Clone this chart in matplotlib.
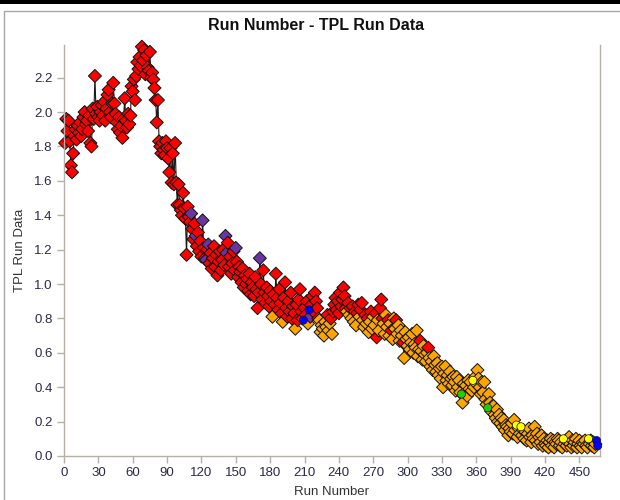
import numpy as np
import matplotlib
matplotlib.use('Agg')
import matplotlib.pyplot as plt
from matplotlib.patches import Rectangle
from matplotlib.lines import Line2D

plt.rcParams['font.family'] = ['Liberation Sans', 'DejaVu Sans']

# TPL value per run (run 1 .. 466)
tpl_values = [
    1.82, 1.96, 1.89, 1.95, 1.83, 1.69, 1.65, 1.76, 1.86, 1.90,
    1.84, 1.92, 1.88, 1.94, 1.86, 1.90, 1.97, 2.00, 1.93, 1.95,
    1.89, 1.98, 1.82, 1.80, 2.02, 1.96, 2.21, 1.99, 2.03, 1.97,
    1.95, 2.00, 2.04, 1.98, 2.06, 1.95, 2.02, 2.10, 2.13, 2.00,
    1.97, 2.05, 2.17, 2.05, 1.99, 1.94, 1.90, 1.97, 1.88, 1.92,
    1.85, 1.96, 2.08, 1.95, 1.91, 1.99, 1.93, 1.98, 2.15, 2.12,
    2.19, 2.07, 2.21, 2.29, 2.25, 2.32, 2.27, 2.38, 2.30, 2.36,
    2.22, 2.33, 2.26, 2.24, 2.35, 2.20, 2.23, 2.19, 2.14, 2.07,
    1.94, 2.07, 1.83, 1.80, 1.76, 1.82, 1.78, 1.75, 1.83, 1.79,
    1.73, 1.65, 1.79, 1.59, 1.76, 1.58, 1.82, 1.59, 1.46, 1.58,
    1.46, 1.43, 1.40, 1.53, 1.44, 1.38, 1.17, 1.45, 1.39, 1.36,
    1.41, 1.32, 1.26, 1.35, 1.28, 1.22, 1.30, 1.19, 1.25, 1.16,
    1.37, 1.21, 1.15, 1.14, 1.20, 1.23, 1.12, 1.18, 1.09, 1.15,
    1.22, 1.10, 1.17, 1.05, 1.13, 1.19, 1.08, 1.14, 1.20, 1.11,
    1.28, 1.18, 1.24, 1.10, 1.16, 1.06, 1.12, 1.19, 1.08, 1.21,
    1.13, 1.04, 1.10, 1.07, 1.01, 1.09, 0.98, 1.05, 1.00, 1.03,
    0.96, 1.06, 0.94, 1.01, 0.98, 0.93, 1.04, 0.97, 0.86, 0.95,
    1.15, 1.00, 0.91, 1.08, 0.95, 0.89, 0.98, 0.93, 0.87, 0.96,
    0.90, 0.81, 0.94, 0.88, 1.06, 0.92, 0.85, 0.97, 0.89, 0.83,
    0.78, 0.92, 1.01, 0.86, 0.81, 0.90, 0.84, 0.95, 0.80, 0.87,
    0.83, 0.74, 0.88, 0.79, 0.91, 0.97, 0.84, 0.80, 0.79, 0.86,
    0.82, 0.90, 0.77, 0.85, 0.81, 0.88, 0.93, 0.84, 0.95, 0.90,
    0.86, 0.80, 0.79, 0.72, 0.76, 0.74, 0.70, 0.78, 0.75, 0.82,
    0.73, 0.77, 0.80, 0.71, 0.84, 0.88, 0.92, 0.85, 0.90, 0.83,
    0.95, 0.87, 0.91, 0.98, 0.93, 0.86, 0.84, 0.89, 0.82, 0.86,
    0.80, 0.87, 0.78, 0.84, 0.76, 0.83, 0.88, 0.81, 0.85, 0.89,
    0.79, 0.75, 0.82, 0.77, 0.80, 0.72, 0.78, 0.84, 0.74, 0.81,
    0.76, 0.83, 0.69, 0.79, 0.73, 0.86, 0.91, 0.80, 0.77, 0.71,
    0.82, 0.75, 0.79, 0.70, 0.77, 0.73, 0.68, 0.80, 0.74, 0.79,
    0.71, 0.76, 0.67, 0.73, 0.70, 0.66, 0.57, 0.72, 0.68, 0.64,
    0.69, 0.62, 0.66, 0.71, 0.60, 0.65, 0.63, 0.73, 0.58, 0.62,
    0.67, 0.61, 0.56, 0.64, 0.59, 0.55, 0.60, 0.63, 0.57, 0.52,
    0.55, 0.50, 0.58, 0.53, 0.49, 0.54, 0.47, 0.51, 0.45, 0.52,
    0.40, 0.48, 0.52, 0.44, 0.47, 0.42, 0.49, 0.45, 0.41, 0.46,
    0.43, 0.38, 0.46, 0.40, 0.44, 0.37, 0.36, 0.31, 0.42, 0.37,
    0.41, 0.35, 0.44, 0.39, 0.43, 0.38, 0.44, 0.40, 0.46, 0.42,
    0.50, 0.45, 0.40, 0.36, 0.43, 0.37, 0.43, 0.33, 0.30, 0.28,
    0.36, 0.31, 0.26, 0.29, 0.29, 0.24, 0.22, 0.27, 0.20, 0.24,
    0.19, 0.22, 0.17, 0.21, 0.15, 0.18, 0.17, 0.12, 0.16, 0.14,
    0.19, 0.13, 0.21, 0.15, 0.18, 0.11, 0.16, 0.13, 0.17, 0.12,
    0.15, 0.10, 0.14, 0.09, 0.13, 0.16, 0.11, 0.08, 0.12, 0.10,
    0.17, 0.09, 0.13, 0.07, 0.11, 0.08, 0.12, 0.06, 0.10, 0.07,
    0.06, 0.09, 0.05, 0.08, 0.10, 0.06, 0.09, 0.05, 0.08, 0.07,
    0.10, 0.09, 0.06, 0.08, 0.05, 0.10, 0.07, 0.09, 0.06, 0.08,
    0.11, 0.07, 0.05, 0.09, 0.06, 0.08, 0.10, 0.05, 0.07, 0.09,
    0.06, 0.05, 0.08, 0.07, 0.09, 0.06, 0.05, 0.10, 0.07, 0.09,
    0.06, 0.08, 0.05, 0.07, 0.09, 0.06,
]

# point colour groups (red before run 291, orange from 291 on, plus exceptions)
orange_switch_run = 291
orange_early_runs = [182, 191, 202, 213, 223, 224, 225, 226, 227, 228, 229,
                     231, 232, 234, 247, 249, 251, 253, 255, 258, 261, 262,
                     264, 266, 267, 269, 270, 271, 274, 275, 279, 280, 281,
                     282, 284, 285, 287, 288, 289]
red_late_runs = [296, 311, 318]
purple_runs = [111, 115, 121, 124, 126, 141, 142, 150, 171, 215]
blue_runs = [209, 214, 465, 466]
yellow_runs = [357, 395, 399, 436, 458]
green_runs = [347, 370]

run_number = np.arange(1, len(tpl_values) + 1)
y = np.array(tpl_values)

colors = []
for r in run_number:
    if r in purple_runs:
        c = '#6a35a0'
    elif r in blue_runs:
        c = '#0000ff'
    elif r in yellow_runs:
        c = '#ffff00'
    elif r in green_runs:
        c = '#22cc00'
    elif r in red_late_runs:
        c = '#ff0000'
    elif r >= orange_switch_run or r in orange_early_runs:
        c = '#ffa500'
    else:
        c = '#ff0000'
    colors.append(c)
colors = np.array(colors)
is_circle = np.isin(run_number, blue_runs + yellow_runs + green_runs)

fig = plt.figure(figsize=(6.2, 5.0), dpi=100)
ax = fig.add_axes([64 / 620, 44 / 500, 536 / 620, 411 / 500])

ax.plot(run_number, y, color='#1a1a1a', lw=0.8, zorder=1)
dm = ~is_circle
ax.scatter(run_number[dm], y[dm], marker='D', s=44, c=colors[dm],
           edgecolors='#111111', linewidths=0.7, zorder=2, clip_on=False)
ax.scatter(run_number[is_circle], y[is_circle], marker='o', s=34,
           c=colors[is_circle], edgecolors='#111111', linewidths=0.5, zorder=3,
           clip_on=False)

ax.set_xlim(0, 468)
ax.set_ylim(0, 2.39)
ax.set_xticks(np.arange(0, 451, 30))
ax.set_yticks(np.arange(0, 2.21, 0.2))
ax.set_yticklabels(['%.1f' % v for v in np.arange(0, 2.21, 0.2)])

for side in ['left', 'bottom', 'right']:
    ax.spines[side].set_color('#b5b1a8')
    ax.spines[side].set_linewidth(1.0)
ax.spines['top'].set_visible(False)
ax.tick_params(axis='both', direction='out', length=5, width=1,
               color='#b5b1a8', labelsize=9.5, labelcolor='#2a2a48', pad=3)
ax.tick_params(axis='y', right=False)

ax.set_xlabel('Run Number', fontsize=9.5, color='#333333', labelpad=5)
ax.set_ylabel('TPL Run Data', fontsize=9.5, color='#333333', labelpad=6)
fig.text(316 / 620, 1 - 26 / 500, 'Run Number - TPL Run Data', ha='center',
         va='center', fontsize=11.5, fontweight='bold', color='#111111')

# outer frame of the original panel
fig.add_artist(Rectangle((0, 1 - 4 / 500), 1, 4 / 500, transform=fig.transFigure,
                         color='black', lw=0))
fig.add_artist(Line2D([3.5 / 620, 3.5 / 620, 1], [0, 1 - 10.5 / 500, 1 - 10.5 / 500],
                      transform=fig.transFigure, color='#a8a8a8', lw=1.0))

fig.savefig('out.png', dpi=100)
